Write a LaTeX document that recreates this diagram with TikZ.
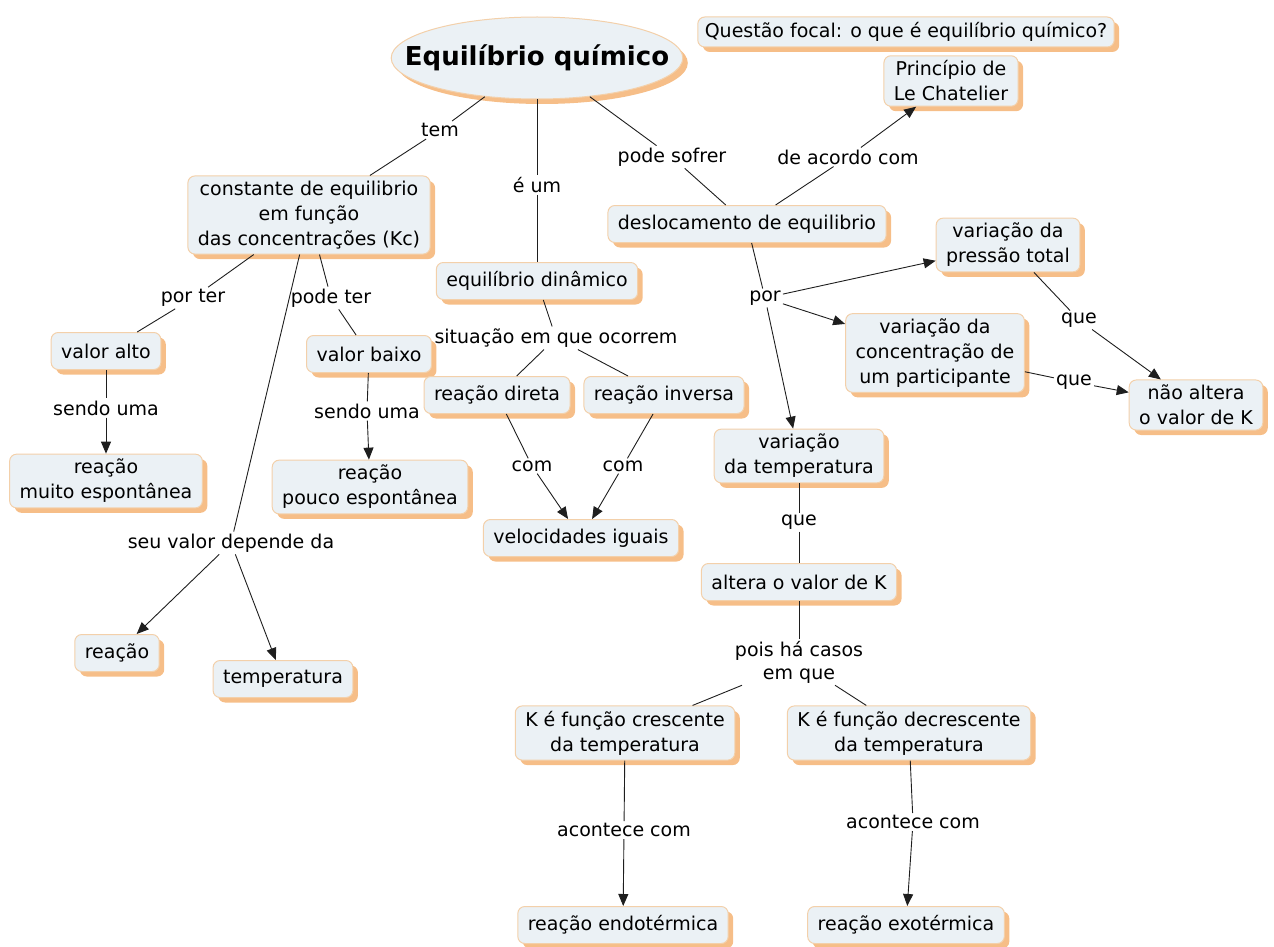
\documentclass[tikz,border=0pt]{standalone}
\usepackage{fontspec}
\setmainfont{DejaVu Sans}
\usetikzlibrary{arrows.meta,shapes.geometric,shadows}
\definecolor{cmfill}{RGB}{235,241,245}
\definecolor{cmborder}{RGB}{243,208,170}
\definecolor{cmshadow}{RGB}{246,190,136}
\definecolor{cmedge}{RGB}{30,30,30}
\tikzset{
  cmbox/.style={
    draw=cmborder, fill=cmfill, line width=1pt, rounded corners=7pt,
    align=center, inner xsep=10pt, inner ysep=5pt, minimum height=37pt,
    font=\fontsize{19}{25}\selectfont,
    drop shadow={shadow xshift=5pt, shadow yshift=-5pt, fill=cmshadow, opacity=1}
  },
  topic/.style={cmbox, ellipse, sharp corners, inner xsep=-29pt, inner ysep=0pt,
    minimum width=290pt, minimum height=82pt,
    font=\fontsize{26}{30}\selectfont\bfseries},
  focal/.style={cmbox, minimum height=30pt, inner ysep=3pt, inner xsep=7pt},
  lnk/.style={font=\fontsize{19}{23}\selectfont, align=center, inner sep=2pt},
  ln/.style={draw=cmedge, line width=0.9pt},
  arr/.style={ln, -{Triangle[length=12pt,width=10pt]}},
  every picture/.append style={x=1pt, y=-1pt}
}
\begin{document}
\begin{tikzpicture}
  \useasboundingbox (0,0) rectangle (1274,947);
  % conceitos
  \node[topic] (eq) at (537,58) {Equilíbrio químico};
  \node[focal] (fq) at (906,32) {Questão focal: o que é equilíbrio químico?};
  \node[cmbox] (lc) at (951,81) {Princípio de\\Le Chatelier};
  \node[cmbox] (kc) at (309,215) {constante de equilibrio\\em função\\das concentrações (Kc)};
  \node[cmbox] (ed) at (537,281) {equilíbrio dinâmico};
  \node[cmbox] (de) at (747,224) {deslocamento de equilibrio};
  \node[cmbox] (vp) at (1008,245) {variação da\\pressão total};
  \node[cmbox] (vc) at (935,353) {variação da\\concentração de\\um participante};
  \node[cmbox] (na) at (1196,405) {não altera\\o valor de K};
  \node[cmbox] (va) at (106,351) {valor alto};
  \node[cmbox] (vb) at (369,354) {valor baixo};
  \node[cmbox] (rd) at (497,395) {reação direta};
  \node[cmbox] (ri) at (664,395) {reação inversa};
  \node[cmbox] (vt) at (799,456) {variação\\da temperatura};
  \node[cmbox] (rm) at (106,481) {reação\\muito espontânea};
  \node[cmbox] (rp) at (370,487) {reação\\pouco espontânea};
  \node[cmbox] (vi) at (581,538) {velocidades iguais};
  \node[cmbox] (ak) at (799,582) {altera o valor de K};
  \node[cmbox] (re) at (117,653) {reação};
  \node[cmbox] (te) at (283,679) {temperatura};
  \node[cmbox] (kcr) at (625,733) {K é função crescente\\da temperatura};
  \node[cmbox] (kde) at (909,733) {K é função decrescente\\da temperatura};
  \node[cmbox] (en) at (623,925) {reação endotérmica};
  \node[cmbox] (ex) at (906,925) {reação exotérmica};
  % frases de ligação
  \node[lnk] (l1) at (440,130) {tem};
  \node[lnk] (l2) at (537,185) {é um};
  \node[lnk] (l3) at (672,157) {pode sofrer};
  \node[lnk] (l4) at (848,157) {de acordo com};
  \node[lnk] (l5) at (193,298) {por ter};
  \node[lnk] (l6) at (331,298) {pode ter};
  \node[lnk] (l7) at (556,338) {situação em que ocorrem};
  \node[lnk] (l8) at (765,298) {por};
  \node[lnk] (l9) at (1079,320) {que};
  \node[lnk] (l10) at (1074,382) {que};
  \node[lnk] (l11) at (106,408) {sendo uma};
  \node[lnk] (l12) at (367,411) {sendo uma};
  \node[lnk] (l13) at (532,466) {com};
  \node[lnk] (l14) at (623,466) {com};
  \node[lnk] (l15) at (799,522) {que};
  \node[lnk] (l16) at (231,543) {seu valor depende da};
  \node[lnk] (l17) at (799,662) {pois há casos\\em que};
  \node[lnk] (l18) at (624,830) {acontece com};
  \node[lnk] (l19) at (913,822) {acontece com};
  % ligações
  \foreach \p/\q in {eq/l1,l1/kc,eq/l2,l2/ed,eq/l3,l3/de,de/l4,kc/l5,l5/va,kc/l6,l6/vb,
    kc/l16,ed/l7,l7/rd,l7/ri,rd/l13,ri/l14,de/l8,vp/l9,vc/l10,va/l11,vb/l12,
    vt/l15,l15/ak,ak/l17,l17/kcr,l17/kde,kcr/l18,kde/l19}
    \draw[ln] (\p) -- (\q);
  \foreach \p/\q in {l4/lc,l8/vp,l8/vc,l8/vt,l9/na,l10/na,l11/rm,l12/rp,l13/vi,l14/vi,
    l16/re,l16/te,l18/en,l19/ex}
    \draw[arr] (\p) -- (\q);
\end{tikzpicture}
\end{document}
